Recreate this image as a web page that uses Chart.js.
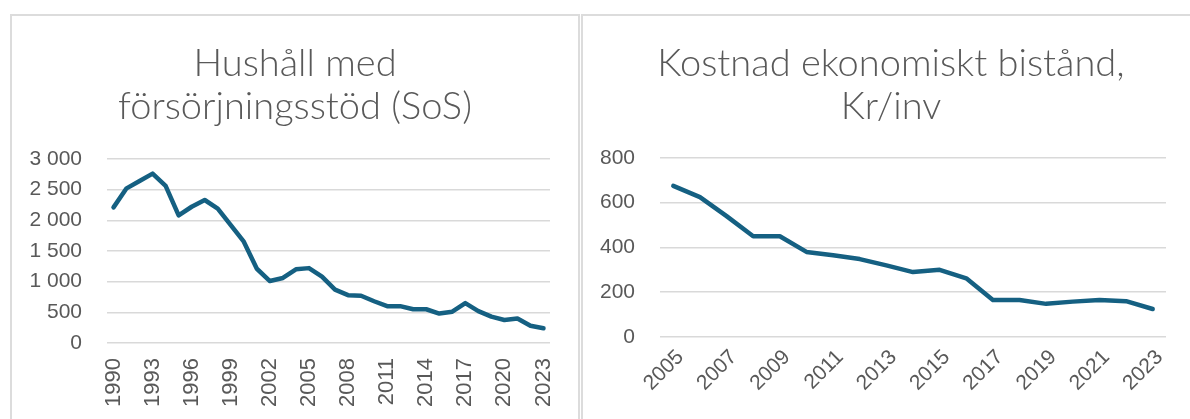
<!DOCTYPE html>
<html>
<head>
<meta charset="utf-8">
<script src="https://cdn.jsdelivr.net/npm/chart.js@4.4.1/dist/chart.umd.min.js"></script>
<style>
  html, body { margin: 0; padding: 0; background: #ffffff; width: 1190px; height: 419px; overflow: hidden; }
  .box { position: absolute; box-sizing: border-box; border: 2px solid #dcdcdc; background: #fff; }
  #boxL { left: 10px; top: 14px; width: 570px; height: 440px; }
  #boxR { left: 581px; top: 14px; width: 640px; height: 440px; }
  canvas { position: absolute; }
  #cL { left: 12px; top: 16px; }
  #cR { left: 583px; top: 16px; }
</style>
</head>
<body>
<div class="box" id="boxL"></div>
<div class="box" id="boxR"></div>
<canvas id="cL" width="566" height="403"></canvas>
<canvas id="cR" width="616" height="403"></canvas>
<script>
// ---- Data ----
const leftTitle = ['Hushåll med', 'försörjningsstöd (SoS)'];
const leftYears = ['1990','1991','1992','1993','1994','1995','1996','1997','1998','1999',
                   '2000','2001','2002','2003','2004','2005','2006','2007','2008','2009',
                   '2010','2011','2012','2013','2014','2015','2016','2017','2018','2019',
                   '2020','2021','2022','2023'];
const leftValues = [2210, 2520, 2640, 2760, 2560, 2080, 2220, 2330, 2190, 1920,
                    1650, 1210, 1010, 1060, 1200, 1220, 1080, 870, 780, 770,
                    680, 600, 600, 550, 550, 480, 510, 650, 520, 430,
                    375, 400, 280, 240];
const leftTickLabels = ['1990','1993','1996','1999','2002','2005','2008','2011','2014','2017','2020','2023'];
const leftYTicks = [0, 500, 1000, 1500, 2000, 2500, 3000];

const rightTitle = ['Kostnad ekonomiskt bistånd,', 'Kr/inv'];
const rightYears = ['2005','2006','2007','2008','2009','2010','2011','2012','2013','2014',
                    '2015','2016','2017','2018','2019','2020','2021','2022','2023'];
const rightValues = [675, 625, 540, 450, 450, 380, 365, 348, 320, 290,
                     300, 262, 165, 165, 148, 158, 165, 160, 125];
const rightTickLabels = ['2005','2007','2009','2011','2013','2015','2017','2019','2021','2023'];
const rightYTicks = [0, 200, 400, 600, 800];

// ---- Styling ----
const LINE = '#156082';
const TEXT = '#595959';
const GRID = '#d9d9d9';
const FONT = "'Liberation Sans', Arial, sans-serif";
const TITLE_FONT = "Lato, 'Liberation Sans', sans-serif";

function fmt(v) {
  return String(v).replace(/\B(?=(\d{3})+(?!\d))/g, '\u00a0');
}

function makeChart(id, title, years, values, tickLabels, yTicks, cfg) {
  return new Chart(document.getElementById(id), {
    type: 'line',
    data: {
      labels: years,
      datasets: [{
        data: values,
        borderColor: LINE,
        backgroundColor: LINE,
        borderWidth: 4.5,
        pointRadius: 0,
        pointHoverRadius: 0,
        tension: 0,
        borderCapStyle: 'round',
        borderJoinStyle: 'round',
        fill: false
      }]
    },
    options: {
      responsive: false,
      animation: false,
      devicePixelRatio: 1,
      layout: { padding: 0 },
      plugins: {
        legend: { display: false },
        tooltip: { enabled: false },
        title: {
          display: true,
          text: title,
          color: TEXT,
          font: { family: TITLE_FONT, size: 38, weight: 300, lineHeight: 1.13 },
          padding: { top: cfg.titleTop, bottom: cfg.titleBottom }
        }
      },
      scales: {
        x: {
          type: 'category',
          offset: true,
          grid: { display: false, drawTicks: false },
          border: { display: false },
          ticks: {
            autoSkip: false,
            minRotation: cfg.rot,
            maxRotation: cfg.rot,
            padding: cfg.xPad,
            labelOffset: cfg.labelOffset,
            color: TEXT,
            font: { family: FONT, size: cfg.xFont },
            callback: function (val) {
              const l = this.getLabelForValue(val);
              return tickLabels.includes(l) ? l : '';
            }
          },
          afterFit: function (s) {
            s.height = cfg.xHeight;
            s.paddingLeft = 0;
            s.paddingRight = cfg.plotRightGap;
          }
        },
        y: {
          min: yTicks[0],
          max: yTicks[yTicks.length - 1],
          grid: { color: GRID, lineWidth: 1.5, drawTicks: false },
          border: { display: false },
          afterBuildTicks: function (s) { s.ticks = yTicks.map(v => ({ value: v })); },
          ticks: {
            padding: 25,
            color: TEXT,
            font: { family: FONT, size: 21 },
            callback: function (v) { return fmt(v); }
          },
          afterFit: function (s) {
            s.width = cfg.yWidth;
            s.paddingTop = 0;
            s.paddingBottom = 0;
          }
        }
      }
    }
  });
}

makeChart('cL', leftTitle, leftYears, leftValues, leftTickLabels, leftYTicks,
  { titleTop: 26, titleBottom: 31, rot: 90, xPad: 15, labelOffset: 0, xFont: 22,
    xHeight: 76, yWidth: 95, plotRightGap: 28 });
makeChart('cR', rightTitle, rightYears, rightValues, rightTickLabels, rightYTicks,
  { titleTop: 26, titleBottom: 30, rot: 45, xPad: 8, labelOffset: 7, xFont: 21,
    xHeight: 82, yWidth: 77, plotRightGap: 33 });
</script>
</body>
</html>
